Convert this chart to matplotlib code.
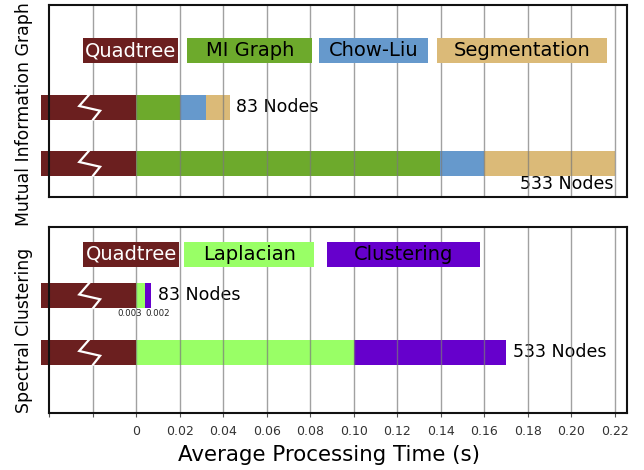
import matplotlib
matplotlib.use('Agg')
import matplotlib.pyplot as plt
from matplotlib.patches import Rectangle

# ---------------- data ----------------
mi_stages = ['MI Graph', 'Chow-Liu', 'Segmentation']
mi_83 = [0.0200, 0.0122, 0.0110]
mi_533 = [0.1395, 0.0205, 0.0600]
sc_stages = ['Laplacian', 'Clustering']
sc_83 = [0.0042, 0.0027]
sc_533 = [0.1000, 0.0700]
sc_83_values_text = ['0.003', '0.002']
node_labels = ['83 Nodes', '533 Nodes']
quadtree_label = 'Quadtree'
quadtree_shown = 0.0437          # truncated (broken) quadtree segment width
xticks = [-0.04, -0.02, 0, 0.02, 0.04, 0.06, 0.08, 0.10, 0.12, 0.14, 0.16, 0.18, 0.20, 0.22]
xticklabels = ['', '', '0', '0.02', '0.04', '0.06', '0.08', '0.10', '0.12', '0.14',
               '0.16', '0.18', '0.20', '0.22']

# ---------------- style ----------------
C_QUAD = '#6b1f1f'
mi_colors = ['#6daa2c', '#6699cc', '#dbba78']
sc_colors = ['#99ff66', '#6600cc']

W, H = 644, 470
fig = plt.figure(figsize=(W / 100, H / 100), dpi=100)
XL = (-0.04, 0.2257)
left_px, right_px = 49.2, 627.3

ax1 = fig.add_axes([left_px / W, 1 - 197 / H, (right_px - left_px) / W, 192 / H])
ax2 = fig.add_axes([left_px / W, 1 - 412.5 / H, (right_px - left_px) / W, 185.5 / H])


def style_axes(ax, hpx, show_ticks):
    ax.set_xlim(*XL)
    ax.set_ylim(hpx, 0)
    ax.set_yticks([])
    ax.set_xticks(xticks)
    for x in xticks[1:]:
        ax.axvline(x, color='#7a7a7a', lw=1.0, zorder=4, alpha=0.7)
    for s in ax.spines.values():
        s.set_linewidth(1.5)
        s.set_color('#111111')
        s.set_zorder(6)
    if show_ticks:
        ax.set_xticklabels(xticklabels, fontsize=9, color='#333333')
        ax.tick_params(axis='x', direction='out', length=3, width=0.8, color='#555555', pad=5.8)
    else:
        ax.tick_params(axis='x', length=0, labelbottom=False)


def quad_bar(ax, yc, h):
    ax.barh([yc], [quadtree_shown], left=[-quadtree_shown], height=h, color=C_QUAD,
            lw=0, zorder=5, clip_on=False)
    top = yc - h / 2
    xs = [-0.0216, -0.0262, -0.0166, -0.0198]
    ys = [top, top + 0.46 * h, top + 0.65 * h, top + h]
    ax.plot(xs, ys, color='white', lw=1.6, zorder=5.5, solid_joinstyle='miter')


def stack(ax, yc, h, vals, colors):
    left = 0.0
    for v, c in zip(vals, colors):
        ax.barh([yc], [v], left=[left], height=h, color=c, lw=0, zorder=2)
        left += v
    return left


def legend_box(ax, x0, x1, yc, h, label, fc, tc):
    ax.add_patch(Rectangle((x0, yc - h / 2), x1 - x0, h, facecolor=fc, edgecolor='none',
                           zorder=5, clip_on=False))
    ax.text((x0 + x1) / 2, yc, label, ha='center', va='center', fontsize=14, color=tc, zorder=6)


# ---------------- top panel ----------------
style_axes(ax1, 192, False)
bh = 25
y_leg, y83, y533 = 45.5, 102, 158
quad_bar(ax1, y83, bh)
quad_bar(ax1, y533, bh)
end83 = stack(ax1, y83, bh, mi_83, mi_colors)
end533 = stack(ax1, y533, bh, mi_533, mi_colors)
ax1.text(end83 + 0.0028, y83, node_labels[0], ha='left', va='center', fontsize=12.5, zorder=3)
ax1.text(end533 - 0.0008, y533 + 21, node_labels[1], ha='right', va='center', fontsize=12.5, zorder=3)
legend_box(ax1, -0.0244, 0.0193, y_leg, bh, quadtree_label, C_QUAD, 'white')
boxes1 = [(0.0235, 0.0810), (0.0842, 0.1339), (0.1381, 0.2163)]
for (a, b), lab, c in zip(boxes1, mi_stages, mi_colors):
    legend_box(ax1, a, b, y_leg, bh, lab, c, 'black')

# ---------------- bottom panel ----------------
style_axes(ax2, 185.5, True)
y_leg2, y83b, y533b = 27, 68.5, 125
quad_bar(ax2, y83b, bh)
quad_bar(ax2, y533b, bh)
e83 = stack(ax2, y83b, bh, sc_83, sc_colors)
e533 = stack(ax2, y533b, bh, sc_533, sc_colors)
ax2.text(e83 + 0.0032, y83b, node_labels[0], ha='left', va='center', fontsize=12.5, zorder=3)
ax2.text(e533 + 0.0032, y533b, node_labels[1], ha='left', va='center', fontsize=12.5, zorder=3)
ax2.text(-0.0032, y83b + 18, sc_83_values_text[0], ha='center', va='center', fontsize=6.2,
         color='#222222', zorder=6)
ax2.text(0.0097, y83b + 18, sc_83_values_text[1], ha='center', va='center', fontsize=6.2,
         color='#222222', zorder=6)
legend_box(ax2, -0.0244, 0.0198, y_leg2, bh, quadtree_label, C_QUAD, 'white')
boxes2 = [(0.0221, 0.0819), (0.0879, 0.1578)]
for (a, b), lab, c in zip(boxes2, sc_stages, sc_colors):
    legend_box(ax2, a, b, y_leg2, bh, lab, c, 'black')

# ---------------- labels ----------------
fig.text(24 / W, 1 - 114 / H, 'Mutual Information Graph', rotation=90, ha='center', va='center', fontsize=12.4)
fig.text(24 / W, 1 - 330 / H, 'Spectral Clustering', rotation=90, ha='center', va='center', fontsize=12.4)
fig.text(329 / W, 1 - 455 / H, 'Average Processing Time (s)', ha='center', va='center', fontsize=15.4)

fig.savefig('out.png', dpi=100)
